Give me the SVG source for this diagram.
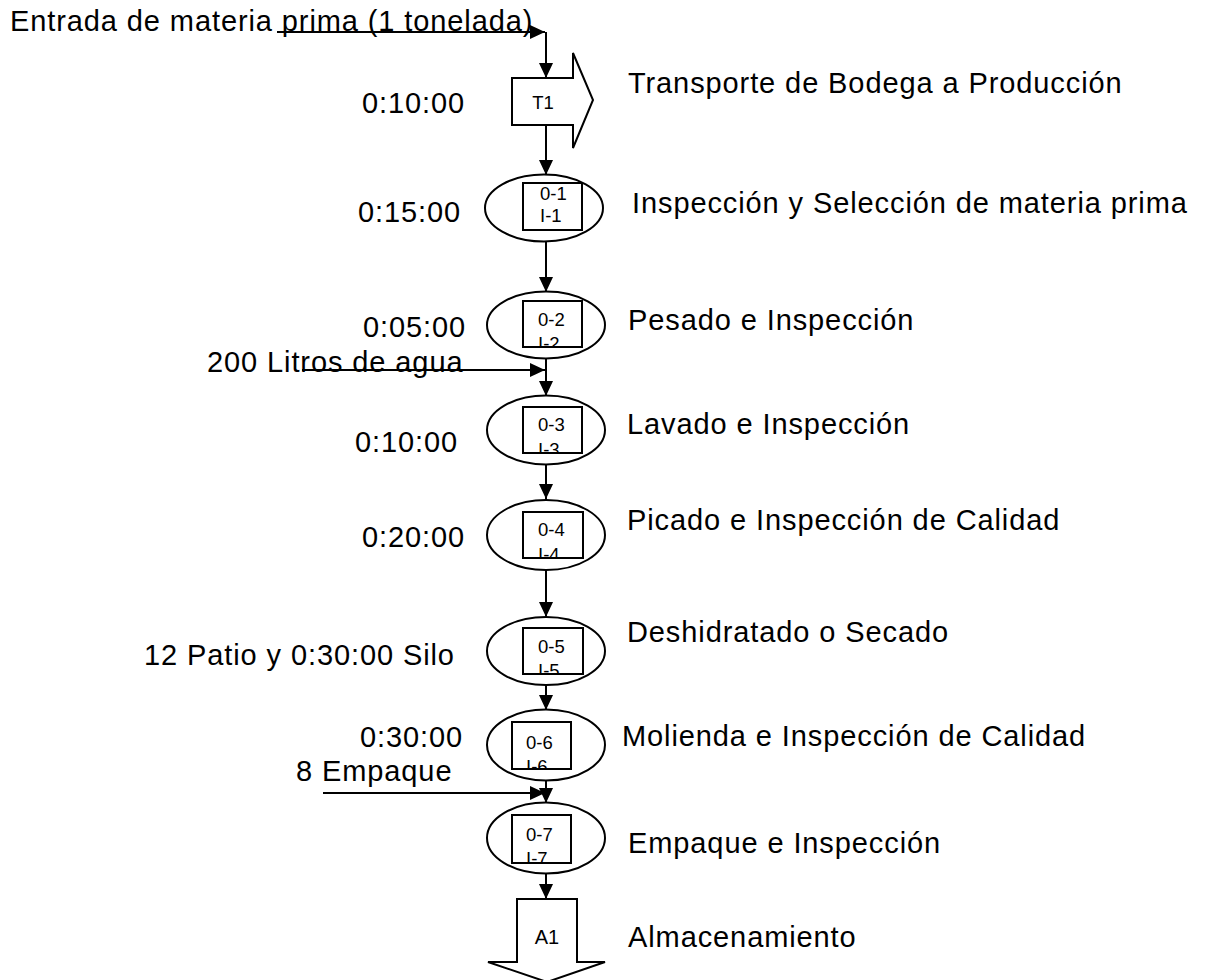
<svg xmlns="http://www.w3.org/2000/svg" width="1208" height="980" viewBox="0 0 1208 980">
<style>
.t{font-family:"Liberation Sans",Arial,sans-serif;font-size:29px;letter-spacing:0.9px;fill:#000}
.s{font-family:"Liberation Sans",Arial,sans-serif;font-size:18.5px;fill:#000}
.b{font-family:"Liberation Sans",Arial,sans-serif;font-size:20px;fill:#000}
.sh{fill:#fff;stroke:#000;stroke-width:2}
.el{fill:#fff;stroke:#000;stroke-width:2}
.c{fill:none;stroke:#000;stroke-width:2}
</style>
<defs>
<marker id="ah" viewBox="0 0 15 14" refX="15" refY="7" markerWidth="15" markerHeight="14" markerUnits="userSpaceOnUse" orient="auto"><path d="M0,0 L15,7 L0,14 z" fill="#000"/></marker>
<clipPath id="k2"><rect x="523" y="301" width="59" height="46"/></clipPath>
<clipPath id="k3"><rect x="523" y="407" width="59" height="46"/></clipPath>
<clipPath id="k4"><rect x="523" y="512" width="60" height="46"/></clipPath>
<clipPath id="k5"><rect x="523" y="628" width="60" height="46"/></clipPath>
<clipPath id="k6"><rect x="512" y="722" width="59" height="47"/></clipPath>
<clipPath id="k7"><rect x="512" y="815" width="59" height="48"/></clipPath>
</defs>
<rect width="1208" height="980" fill="#fff"/>

<g id="labels">
<text class="t" x="10" y="31">Entrada de materia prima (1 tonelada)</text>
<text class="t" x="362" y="113">0:10:00</text>
<text class="t" x="628" y="93">Transporte de Bodega a Producción</text>
<text class="t" x="358" y="222">0:15:00</text>
<text class="t" x="632" y="213">Inspección y Selección de materia prima</text>
<text class="t" x="363" y="337">0:05:00</text>
<text class="t" x="628" y="330">Pesado e Inspección</text>
<text class="t" x="207" y="372">200 Litros de agua</text>
<text class="t" x="355" y="452">0:10:00</text>
<text class="t" x="627" y="434">Lavado e Inspección</text>
<text class="t" x="362" y="547">0:20:00</text>
<text class="t" x="627" y="530">Picado e Inspección de Calidad</text>
<text class="t" x="144" y="665">12 Patio y 0:30:00 Silo</text>
<text class="t" x="627" y="642">Deshidratado o Secado</text>
<text class="t" x="360" y="747">0:30:00</text>
<text class="t" x="622" y="746">Molienda e Inspección de Calidad</text>
<text class="t" x="296" y="781">8 Empaque</text>
<text class="t" x="628" y="853">Empaque e Inspección</text>
<text class="t" x="628" y="947">Almacenamiento</text>
</g>

<g id="connectors">
<path class="c" d="M277,32 H545" marker-end="url(#ah)"/>
<path class="c" d="M546,32 V78" marker-end="url(#ah)"/>
<path class="c" d="M546,125 V175" marker-end="url(#ah)"/>
<path class="c" d="M546,242 V292" marker-end="url(#ah)"/>
<path class="c" d="M546,359 V396" marker-end="url(#ah)"/>
<path class="c" d="M302,370 H545" marker-end="url(#ah)"/>
<path class="c" d="M546,465 V499" marker-end="url(#ah)"/>
<path class="c" d="M546,570 V617" marker-end="url(#ah)"/>
<path class="c" d="M546,685 V710" marker-end="url(#ah)"/>
<path class="c" d="M546,781 V803" marker-end="url(#ah)"/>
<path class="c" d="M323,793 H545" marker-end="url(#ah)"/>
<path class="c" d="M546,874 V899" marker-end="url(#ah)"/>
</g>

<g id="T1">
<path class="sh" d="M512,78 H573 V53 L593,100 L573,148 V125 H512 Z"/>
<text class="s" x="543" y="109" text-anchor="middle">T1</text>
</g>

<g id="op1">
<ellipse class="el" cx="544" cy="208" rx="59" ry="33.5"/>
<rect class="sh" x="523" y="183" width="59" height="47"/>
<text class="s" x="540" y="200">0-1</text>
<text class="s" x="540" y="222">I-1</text>
</g>

<g id="op2">
<ellipse class="el" cx="546" cy="325" rx="59" ry="33.5"/>
<rect class="sh" x="523" y="301" width="59" height="46"/>
<text class="s" x="538" y="326">0-2</text>
<text class="s" x="538" y="350" clip-path="url(#k2)">I-2</text>
</g>

<g id="op3">
<ellipse class="el" cx="546" cy="430" rx="59" ry="34.5"/>
<rect class="sh" x="523" y="407" width="59" height="46"/>
<text class="s" x="538" y="431">0-3</text>
<text class="s" x="538" y="456" clip-path="url(#k3)">I-3</text>
</g>

<g id="op4">
<ellipse class="el" cx="546" cy="535" rx="59" ry="35"/>
<rect class="sh" x="523" y="512" width="60" height="46"/>
<text class="s" x="538" y="536">0-4</text>
<text class="s" x="538" y="561" clip-path="url(#k4)">I-4</text>
</g>

<g id="op5">
<ellipse class="el" cx="546" cy="651" rx="59" ry="34"/>
<rect class="sh" x="523" y="628" width="60" height="46"/>
<text class="s" x="538" y="653">0-5</text>
<text class="s" x="538" y="677" clip-path="url(#k5)">I-5</text>
</g>

<g id="op6">
<ellipse class="el" cx="546" cy="745" rx="59" ry="35.5"/>
<rect class="sh" x="512" y="722" width="59" height="47"/>
<text class="s" x="526" y="749">0-6</text>
<text class="s" x="526" y="773" clip-path="url(#k6)">I-6</text>
</g>

<g id="op7">
<ellipse class="el" cx="546" cy="838" rx="59" ry="35.5"/>
<rect class="sh" x="512" y="815" width="59" height="48"/>
<text class="s" x="526" y="841">0-7</text>
<text class="s" x="526" y="865" clip-path="url(#k7)">I-7</text>
</g>

<g id="A1">
<path class="sh" d="M517,899 H577 V962 H605 L547,982 L488,962 H517 Z"/>
<text class="b" x="547" y="944" text-anchor="middle">A1</text>
</g>
</svg>
